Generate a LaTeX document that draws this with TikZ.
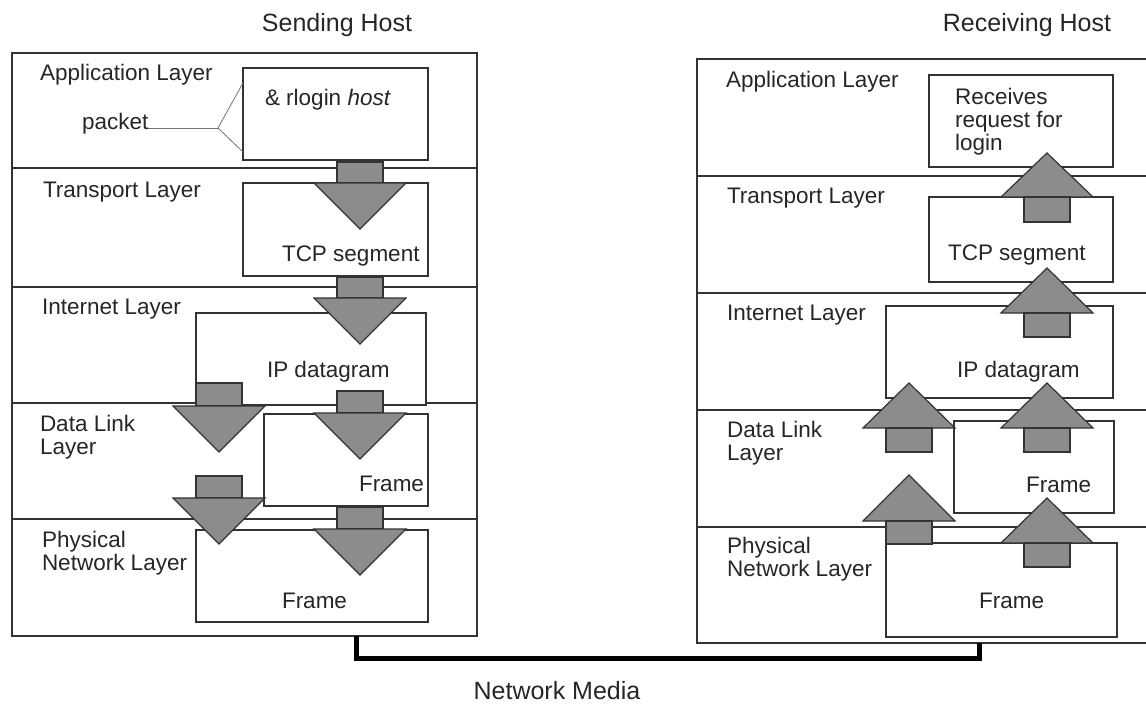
\documentclass[tikz,border=0pt]{standalone}
\usepackage{fontspec}
\setmainfont{Liberation Sans}
\usepackage{tikz}

\begin{document}
\begin{tikzpicture}[x=1pt, y=-1pt, every node/.style={inner sep=0pt, outer sep=0pt}]

  \tikzstyle{host}=[draw=black!80, line width=1.4pt]
  \tikzstyle{divider}=[draw=black!80, line width=1.4pt]
  \tikzstyle{pdu}=[draw=black!80, line width=1.4pt, fill=white]
  \tikzstyle{lbl}=[anchor=base west, align=left, font=\fontsize{22.5}{23}\selectfont, text=black!85]
  \tikzstyle{title}=[anchor=base, font=\fontsize{25}{27}\selectfont, text=black!85]
  \tikzstyle{blk}=[draw=black!80, fill=black!45, line width=1.2pt, line join=miter]
  \tikzstyle{pointer}=[draw=black!55, line width=0.8pt]
  \tikzstyle{media}=[draw=black, line width=5pt]

  \useasboundingbox (0,0) rectangle (1146,705);

  % titles
  \node[title] (sendtitle) at (337,31) {Sending Host};
  \node[title] (recvtitle) at (1027,31) {Receiving Host};

  % the two stacks
  \node[host, minimum width=465, minimum height=583] (sendhost) at (244.5,344.5) {};
  \draw[host] (1150,59) -- (697,59) -- (697,643) -- (1150,643);
  \draw[divider] (sendhost.west |- 0,168) -- (sendhost.east |- 0,168);
  \draw[divider] (sendhost.west |- 0,287) -- (sendhost.east |- 0,287);
  \draw[divider] (sendhost.west |- 0,403) -- (sendhost.east |- 0,403);
  \draw[divider] (sendhost.west |- 0,519) -- (sendhost.east |- 0,519);
  \draw[divider] (697,176) -- (1150,176);
  \draw[divider] (697,293) -- (1150,293);
  \draw[divider] (697,410) -- (1150,410);
  \draw[divider] (697,527) -- (1150,527);

  % layer names (base = last line)
  \node[lbl] (sl1) at (40,80) {Application Layer};
  \node[lbl] (sl2) at (43,197) {Transport Layer};
  \node[lbl] (sl3) at (42,314) {Internet Layer};
  \node[lbl] (sl4) at (40,454) {Data Link\\Layer};
  \node[lbl] (sl5) at (42,570) {Physical\\Network Layer};

  \node[lbl] (rl1) at (726,87) {Application Layer};
  \node[lbl] (rl2) at (727,203) {Transport Layer};
  \node[lbl] (rl3) at (727,320) {Internet Layer};
  \node[lbl] (rl4) at (727,460) {Data Link\\Layer};
  \node[lbl] (rl5) at (727,576) {Physical\\Network Layer};

  % sending side data units
  \node[pdu, minimum width=185, minimum height=92] (sapp) at (335.5,114) {};
  \node[pdu, minimum width=185, minimum height=93] (stcp) at (335.5,229.5) {};
  \node[pdu, minimum width=230, minimum height=92] (sip) at (311,359) {};
  \node[pdu, minimum width=164, minimum height=92] (slink) at (346,460) {};
  \node[pdu, minimum width=232, minimum height=92] (sphys) at (312,576) {};

  \node[lbl] (cmd) at (265,105) {\& rlogin \textit{host}};
  \node[lbl] (packet) at (82,129) {packet};
  \node[lbl] (stcptxt) at (282,261) {TCP segment};
  \node[lbl] (siptxt) at (267,377) {IP datagram};
  \node[lbl] (slinktxt) at (359,491) {Frame};
  \node[lbl] (sphystxt) at (282,608) {Frame};

  \coordinate (fork) at (218,128);
  \draw[pointer] (packet.east |- fork) -- (fork);
  \draw[pointer] (sapp.west |- 0,83) -- (fork) -- (sapp.west |- 0,152);

  % receiving side data units
  \node[pdu, minimum width=184, minimum height=92] (rapp) at (1021,121) {};
  \node[pdu, minimum width=184, minimum height=85] (rtcp) at (1021,239.5) {};
  \node[pdu, minimum width=227, minimum height=92] (rip) at (999.5,352) {};
  \node[pdu, minimum width=160, minimum height=92] (rlink) at (1034,467) {};
  \node[pdu, minimum width=231, minimum height=94] (rphys) at (1001.5,590) {};

  \node[lbl] (login) at (955,150) {Receives\\request for\\login};
  \node[lbl] (rtcptxt) at (948,260) {TCP segment};
  \node[lbl] (riptxt) at (957,377) {IP datagram};
  \node[lbl] (rlinktxt) at (1026,492) {Frame};
  \node[lbl] (rphystxt) at (979,608) {Frame};

  % going down the sending stack
  \draw[blk] (337,162) rectangle (383,183);
  \draw[blk] (314,183) -- (406,183) -- (360,229) -- cycle;
  \draw[blk] (337,277) rectangle (383,298);
  \draw[blk] (314,298) -- (406,298) -- (360,344) -- cycle;
  \draw[blk] (196,383) rectangle (242,406);
  \draw[blk] (173,406) -- (265,406) -- (219,452) -- cycle;
  \draw[blk] (337,391) rectangle (383,413);
  \draw[blk] (314,413) -- (406,413) -- (360,459) -- cycle;
  \draw[blk] (196,476) rectangle (242,498);
  \draw[blk] (173,498) -- (265,498) -- (219,544) -- cycle;
  \draw[blk] (337,507) rectangle (383,529);
  \draw[blk] (314,529) -- (406,529) -- (360,575) -- cycle;

  % going up the receiving stack
  \draw[blk] (1001,197) -- (1093,197) -- (1047,153) -- cycle;
  \draw[blk] (1024,197) rectangle (1070,222);
  \draw[blk] (1001,313) -- (1093,313) -- (1047,268) -- cycle;
  \draw[blk] (1024,313) rectangle (1070,337);
  \draw[blk] (863,428) -- (955,428) -- (909,383) -- cycle;
  \draw[blk] (886,428) rectangle (932,452);
  \draw[blk] (1001,428) -- (1093,428) -- (1047,383) -- cycle;
  \draw[blk] (1024,428) rectangle (1070,452);
  \draw[blk] (863,521) -- (955,521) -- (909,475) -- cycle;
  \draw[blk] (886,521) rectangle (932,544);
  \draw[blk] (1001,543) -- (1093,543) -- (1047,498) -- cycle;
  \draw[blk] (1024,543) rectangle (1070,567);

  % cable between the hosts
  \coordinate (sendtap) at (sendhost.south -| 356,0);
  \coordinate (recvtap) at (979,643);
  \draw[media] (sendtap) -- ++(0,22) -| (recvtap);
  \node[title] (media) at (557,699) {Network Media};

\end{tikzpicture}
\end{document}
